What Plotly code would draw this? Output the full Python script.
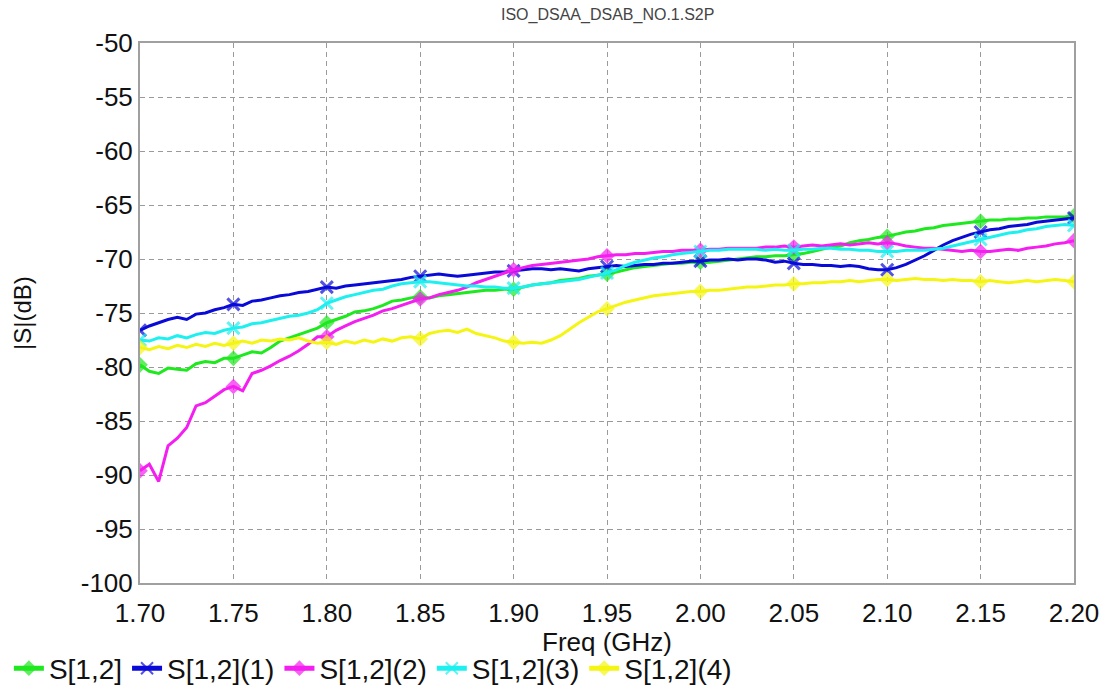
import plotly.graph_objects as go

# Frequency sweep (GHz)
freq = [
    1.700, 1.705, 1.710, 1.715, 1.720, 1.725, 1.730, 1.735, 1.740, 1.745,
    1.750, 1.755, 1.760, 1.765, 1.770, 1.775, 1.780, 1.785, 1.790, 1.795,
    1.800, 1.805, 1.810, 1.815, 1.820, 1.825, 1.830, 1.835, 1.840, 1.845,
    1.850, 1.855, 1.860, 1.865, 1.870, 1.875, 1.880, 1.885, 1.890, 1.895,
    1.900, 1.905, 1.910, 1.915, 1.920, 1.925, 1.930, 1.935, 1.940, 1.945,
    1.950, 1.955, 1.960, 1.965, 1.970, 1.975, 1.980, 1.985, 1.990, 1.995,
    2.000, 2.005, 2.010, 2.015, 2.020, 2.025, 2.030, 2.035, 2.040, 2.045,
    2.050, 2.055, 2.060, 2.065, 2.070, 2.075, 2.080, 2.085, 2.090, 2.095,
    2.100, 2.105, 2.110, 2.115, 2.120, 2.125, 2.130, 2.135, 2.140, 2.145,
    2.150, 2.155, 2.160, 2.165, 2.170, 2.175, 2.180, 2.185, 2.190, 2.195,
    2.200,
]

s12 = [
    -79.8, -80.4, -80.6, -80.1, -80.2, -80.3, -79.7, -79.5, -79.6, -79.2,
    -79.2, -78.9, -78.6, -78.7, -78.2, -77.6, -77.3, -77.0, -76.7, -76.4,
    -75.9, -75.6, -75.3, -74.9, -74.8, -74.6, -74.3, -73.9, -73.8, -73.6,
    -73.5, -73.6, -73.4, -73.3, -73.2, -73.1, -73.0, -72.9, -72.9, -72.8,
    -72.8, -72.6, -72.4, -72.3, -72.2, -72.0, -71.9, -71.8, -71.6, -71.5,
    -71.4, -71.2, -71.0, -70.8, -70.7, -70.6, -70.5, -70.4, -70.4, -70.3,
    -70.3, -70.3, -70.2, -70.1, -70.0, -69.9, -69.8, -69.8, -69.7, -69.7,
    -69.6, -69.5, -69.3, -69.1, -68.9, -68.8, -68.5, -68.3, -68.2, -68.0,
    -67.9, -67.7, -67.5, -67.4, -67.2, -67.1, -66.9, -66.8, -66.7, -66.6,
    -66.5, -66.4, -66.4, -66.3, -66.3, -66.2, -66.2, -66.1, -66.1, -66.1,
    -66.0,
]

s12_1 = [
    -76.6, -76.2, -75.9, -75.6, -75.4, -75.6, -75.1, -75.0, -74.7, -74.5,
    -74.2, -74.3, -73.9, -73.8, -73.6, -73.4, -73.3, -73.1, -73.0, -72.8,
    -72.6, -72.7, -72.5, -72.4, -72.3, -72.2, -72.1, -72.0, -71.9, -71.7,
    -71.6, -71.5, -71.4, -71.5, -71.6, -71.5, -71.4, -71.3, -71.2, -71.2,
    -71.1, -71.0, -70.9, -70.9, -71.0, -70.9, -71.0, -71.1, -70.9, -70.8,
    -70.7, -70.6, -70.7, -70.6, -70.5, -70.5, -70.4, -70.4, -70.3, -70.2,
    -70.2, -70.1, -70.1, -70.0, -70.1, -70.0, -70.0, -70.1, -70.3, -70.2,
    -70.4, -70.5, -70.5, -70.6, -70.6, -70.7, -70.6, -70.7, -70.9, -71.0,
    -71.0, -70.8, -70.5, -70.1, -69.7, -69.2, -68.7, -68.3, -68.0, -67.7,
    -67.5, -67.3, -67.2, -67.0, -66.9, -66.8, -66.6, -66.5, -66.4, -66.3,
    -66.2,
]

s12_2 = [
    -89.6, -89.0, -90.6, -87.3, -86.6, -85.6, -83.6, -83.3, -82.7, -82.1,
    -81.8, -82.2, -80.6, -80.3, -79.9, -79.4, -79.0, -78.5, -77.9, -77.2,
    -77.2, -76.6, -76.2, -75.8, -75.5, -75.2, -74.8, -74.6, -74.3, -74.0,
    -73.7, -73.6, -73.3, -73.1, -72.9, -72.6, -72.2, -71.9, -71.6, -71.3,
    -71.0, -70.8, -70.6, -70.5, -70.4, -70.3, -70.2, -70.1, -70.0, -69.8,
    -69.7, -69.6, -69.6, -69.5, -69.5, -69.4, -69.3, -69.3, -69.2, -69.2,
    -69.2, -69.1, -69.1, -69.0, -69.0, -69.0, -69.0, -68.9, -68.9, -68.8,
    -68.9, -68.8, -68.7, -68.8, -68.7, -68.6, -68.7, -68.6, -68.5, -68.6,
    -68.5, -68.6, -68.8, -68.9, -69.0, -69.0, -69.1, -69.2, -69.3, -69.2,
    -69.3, -69.3, -69.2, -69.1, -69.2, -69.0, -68.9, -68.8, -68.6, -68.5,
    -68.3,
]

s12_3 = [
    -77.5, -77.6, -77.3, -77.4, -77.1, -77.3, -77.0, -76.8, -76.9, -76.6,
    -76.4, -76.3, -76.0, -75.9, -75.7, -75.5, -75.3, -75.2, -75.0, -74.7,
    -74.1, -73.8, -73.5, -73.3, -73.1, -72.9, -72.8, -72.5, -72.3, -72.2,
    -72.1, -72.1, -72.2, -72.3, -72.4, -72.5, -72.5, -72.6, -72.6, -72.7,
    -72.7, -72.6, -72.4, -72.3, -72.2, -72.1, -72.0, -71.9, -71.7, -71.5,
    -71.3, -71.0, -70.6, -70.3, -70.1, -69.9, -69.8, -69.6, -69.5, -69.4,
    -69.3, -69.2, -69.2, -69.1, -69.1, -69.1, -69.1, -69.2, -69.1, -69.2,
    -69.2, -69.1, -69.1, -69.0, -69.0, -69.1, -69.1, -69.2, -69.2, -69.3,
    -69.3, -69.3, -69.2, -69.2, -69.2, -69.1, -69.0, -68.8, -68.6, -68.4,
    -68.2, -68.0, -67.8, -67.6, -67.5, -67.3, -67.2, -67.0, -66.9, -66.8,
    -66.9,
]

s12_4 = [
    -78.2, -78.4, -78.1, -78.3, -78.0, -78.2, -77.9, -78.1, -77.8, -78.0,
    -77.8, -77.6, -77.8, -77.5, -77.6, -77.4, -77.5, -77.3, -77.6, -77.8,
    -77.7, -77.9, -77.6, -77.8, -77.5, -77.7, -77.4, -77.6, -77.3, -77.2,
    -77.4, -76.9, -76.7, -76.6, -76.8, -76.5, -76.9, -77.1, -77.3, -77.6,
    -77.7, -77.8, -77.7, -77.8, -77.5, -77.1, -76.5, -75.9, -75.4, -74.9,
    -74.6, -74.3, -74.0, -73.8, -73.6, -73.4, -73.3, -73.2, -73.1, -73.0,
    -73.0, -72.9, -72.9, -72.8, -72.7, -72.6, -72.6, -72.5, -72.4, -72.4,
    -72.3, -72.3, -72.2, -72.2, -72.1, -72.1, -72.0, -72.1, -72.0, -71.9,
    -71.9, -72.0, -71.9, -71.8, -71.9, -71.9, -72.0, -71.9, -72.0, -72.0,
    -72.1, -72.0, -72.1, -72.2, -72.1, -72.0, -72.1, -72.0, -71.9, -72.0,
    -72.1,
]

series_names = ["S[1,2]", "S[1,2](1)", "S[1,2](2)", "S[1,2](3)", "S[1,2](4)"]
series_values = [s12, s12_1, s12_2, s12_3, s12_4]
colors = ["#1ee81e", "#0a0ad8", "#f51ef0", "#1ef0f0", "#f5f514"]
symbols = ["diamond", "x-thin", "diamond", "x-thin", "diamond"]

x_ticks = [1.70, 1.75, 1.80, 1.85, 1.90, 1.95, 2.00, 2.05, 2.10, 2.15, 2.20]
x_ticktext = ["1.70", "1.75", "1.80", "1.85", "1.90", "1.95", "2.00", "2.05", "2.10", "2.15", "2.20"]
y_ticks = [-50, -55, -60, -65, -70, -75, -80, -85, -90, -95, -100]
y_ticktext = ["-50", "-55", "-60", "-65", "-70", "-75", "-80", "-85", "-90", "-95", "-100"]

FONT = "Liberation Sans, Arial, sans-serif"

fig = go.Figure()
for name, vals, col, sym in zip(series_names, series_values, colors, symbols):
    sizes = [12 if i % 10 == 0 else 0 for i in range(len(freq))]
    fig.add_trace(go.Scatter(
        x=freq, y=vals, name=name, mode="lines+markers",
        line=dict(color=col, width=3),
        marker=dict(symbol=sym, size=sizes, color=col,
                    line=dict(color=col, width=3 if "x" in sym else 0)),
    ))

grid_color = "#9a9a9a"
fig.update_layout(
    width=1110, height=692,
    margin=dict(l=140, r=36, t=43, b=109),
    paper_bgcolor="white", plot_bgcolor="white",
    font=dict(family=FONT, color="#111", size=26),
    showlegend=True,
    legend=dict(orientation="h", xref="container", yref="container",
                x=0.008, xanchor="left", y=0.034, yanchor="middle",
                font=dict(size=28, family=FONT, color="#111"), itemsizing="constant",
                bgcolor="rgba(0,0,0,0)", tracegroupgap=0),
    xaxis=dict(range=[1.70, 2.20], tickvals=x_ticks, ticktext=x_ticktext,
               showgrid=True, gridcolor=grid_color, griddash="5px,4px", gridwidth=1,
               showline=True, linecolor="#a0a0a0", linewidth=2, mirror=True,
               ticks="", zeroline=False, automargin=False, ticklabelstandoff=6,
               tickfont=dict(size=26, family=FONT, color="#111")),
    yaxis=dict(range=[-100, -50], tickvals=y_ticks, ticktext=y_ticktext,
               showgrid=True, gridcolor=grid_color, griddash="5px,4px", gridwidth=1,
               showline=True, linecolor="#a0a0a0", linewidth=2, mirror=True,
               ticks="", zeroline=False, automargin=False,
               tickfont=dict(size=26, family=FONT, color="#111")),
    annotations=[
        dict(text="ISO_DSAA_DSAB_NO.1.S2P", xref="paper", yref="paper", x=0.5, y=1.052,
             xanchor="center", yanchor="middle", showarrow=False,
             font=dict(size=16, family=FONT, color="#444")),
        dict(text="Freq (GHz)", xref="paper", yref="paper", x=0.5, y=-0.11,
             xanchor="center", yanchor="middle", showarrow=False,
             font=dict(size=26, family=FONT, color="#111")),
        dict(text="|S|(dB)", xref="paper", yref="paper", x=-0.1263, y=0.5,
             xanchor="center", yanchor="middle", textangle=-90, showarrow=False,
             font=dict(size=24, family=FONT, color="#111")),
    ],
)

fig.write_html("out.html")
